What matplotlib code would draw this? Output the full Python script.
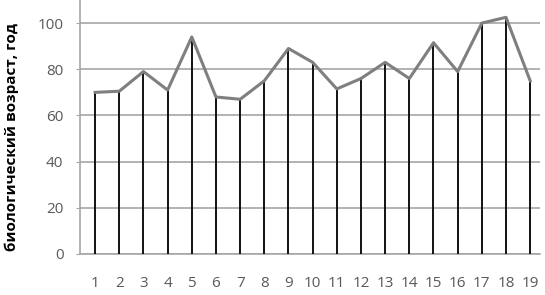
import matplotlib.pyplot as plt

# biological age per subject
subjects = list(range(1, 20))
bio_age = [70, 70.5, 79, 71, 94, 68, 67, 75, 89, 83, 71.5, 76, 83, 76, 91.5, 79, 100, 102.5, 75]
y_ticks = [0, 20, 40, 60, 80, 100]

plt.rcParams['font.family'] = ['Open Sans', 'DejaVu Sans']

fig = plt.figure(figsize=(5.45, 2.95), dpi=100)
ax = fig.add_axes([0.147, 0.139, 0.844, 0.861])

ax.vlines(subjects, 0, bio_age, color='#111111', linewidth=1.4, zorder=3)
ax.plot(subjects, bio_age, color='#7f7f7f', linewidth=2.2, zorder=4)

ax.set_xlim(0.38, 19.41)
ax.set_ylim(0, 110)
ax.set_yticks(y_ticks)
ax.set_xticks(subjects)
ax.yaxis.grid(True, color='#a6a6a6', linewidth=1.2)
ax.set_axisbelow(True)

for side in ['top', 'right']:
    ax.spines[side].set_visible(False)
ax.spines['left'].set_color('#a6a6a6')
ax.spines['bottom'].set_color('#a6a6a6')
ax.spines['left'].set_linewidth(1.2)
ax.spines['bottom'].set_linewidth(1.2)
ax.tick_params(axis='y', length=3, color='#a6a6a6', labelsize=11, labelcolor='#595959', pad=9)
ax.tick_params(axis='x', length=0, labelsize=11, labelcolor='#595959', pad=16)

ax.set_ylabel('биологический возраст, год', fontsize=11, fontweight='bold')
ax.yaxis.set_label_coords(-0.133, 0.46)

fig.savefig('out.png', dpi=100)
